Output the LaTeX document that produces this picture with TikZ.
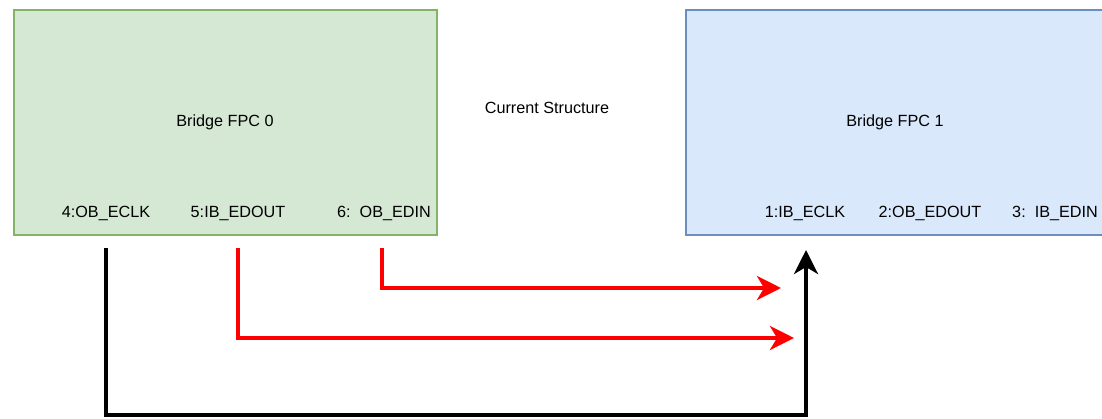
\documentclass[tikz,border=0pt]{standalone}
\usepackage{fontspec}
\setmainfont{Liberation Sans}
\usetikzlibrary{arrows.meta}
\definecolor{gfill}{HTML}{D5E8D4}
\definecolor{gline}{HTML}{82B366}
\definecolor{bfill}{HTML}{DAE8FC}
\definecolor{bline}{HTML}{6C8EBF}
\tikzset{
  lbl/.style={font=\fontsize{16.2}{19}\selectfont, inner sep=0pt, anchor=center},
  wire/.style={line width=4pt, -{Stealth[length=24pt,width=24pt,inset=7pt]}},
}
\begin{document}
\begin{tikzpicture}[x=1pt,y=-1pt]
\useasboundingbox (0,0) rectangle (1102,418);
\begin{scope}
\clip (0,0) rectangle (1102,418);
\draw[fill=gfill, draw=gline, line width=1.5pt] (14,10) rectangle (437,235);
\draw[fill=bfill, draw=bline, line width=1.5pt] (686,10) rectangle (1120,235);
\end{scope}
\node[lbl] (b0) at (225,122) {Bridge FPC 0};
\node[lbl] (cs) at (547,108) {Current Structure};
\node[lbl] (b1) at (895,122) {Bridge FPC 1};
\node[lbl] (p4) at (106,213) {4:OB\_ECLK};
\node[lbl] (p5) at (238,213) {5:IB\_EDOUT};
\node[lbl] (p6) at (384,213) {6:\ \ OB\_EDIN};
\node[lbl] (p1) at (805,213) {1:IB\_ECLK};
\node[lbl] (p2) at (930,213) {2:OB\_EDOUT};
\node[lbl] (p3) at (1055,213) {3:\ \ IB\_EDIN};
\coordinate (s4) at (106,248);
\coordinate (s5) at (238,248);
\coordinate (s6) at (382,248);
\coordinate (e1) at (806,250);
\coordinate (e6) at (781,288);
\coordinate (e5) at (794,338);
\draw[wire, black, line cap=butt] (s4) -- (106,415) -- (806,415) -- (e1);
\draw[wire, red] (s6) |- (e6);
\draw[wire, red] (s5) |- (e5);
\end{tikzpicture}
\end{document}
